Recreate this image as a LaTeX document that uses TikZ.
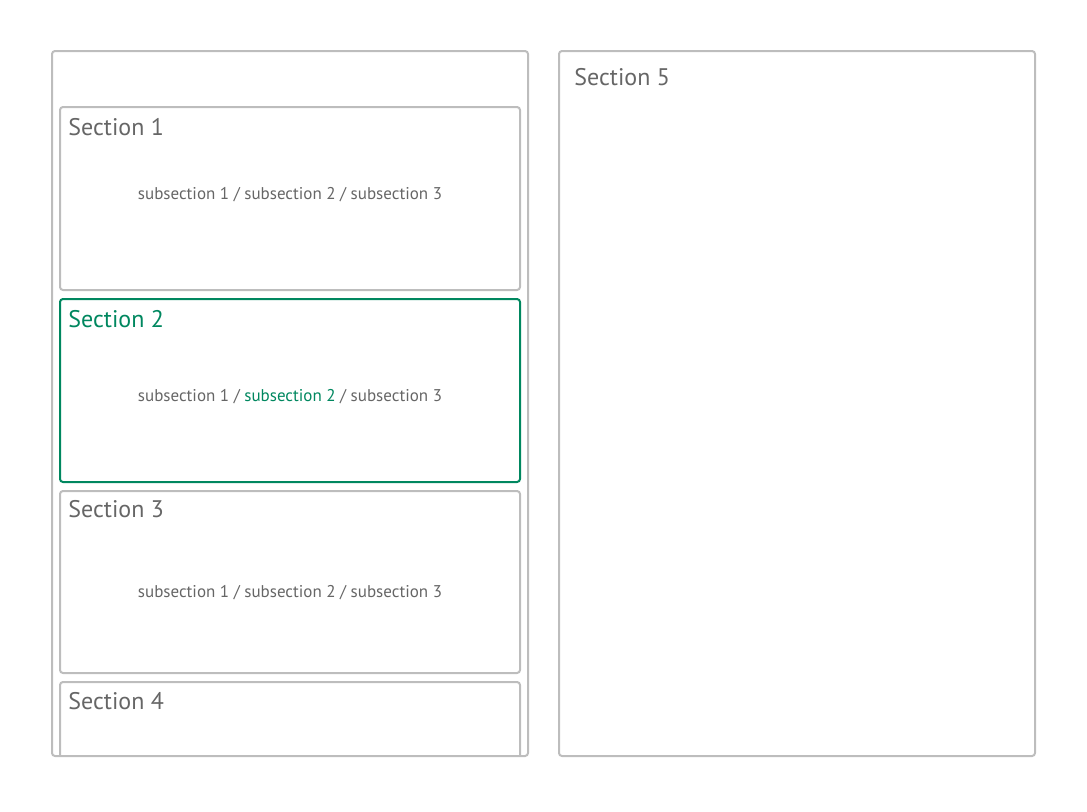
\documentclass[tikz,border=0pt]{standalone}
\usepackage{fontspec}
\setmainfont{PT Sans}
\usetikzlibrary{positioning}
\definecolor{framegray}{HTML}{BDBDBD}
\definecolor{textgray}{HTML}{666666}
\definecolor{activegreen}{HTML}{00875F}
\tikzset{
		panel/.style={draw=framegray, line width=1pt, rounded corners=1.5pt},
		secbox/.style={draw=framegray, line width=1pt, rounded corners=1.5pt},
		activebox/.style={draw=activegreen, line width=1pt, rounded corners=1.5pt},
		sectitle/.style={anchor=base west, inner sep=0pt, text=textgray, font=\fontsize{12}{14}\selectfont},
		subline/.style={inner sep=0pt, text=textgray, font=\fontsize{8.5}{10}\selectfont}
	}

\begin{document}
\begin{tikzpicture}[x=0.5pt, y=-0.5pt]
    \useasboundingbox (0,0) rectangle (1087,811);

    % the two panels
    \draw[panel] (52,51) rectangle (528,756);
    \draw[panel] (559,51) rectangle (1035,756);

    % the sections in the left panel
    \draw[secbox] (60,107) rectangle (520,290);
    \draw[activebox] (60,299) rectangle (520,482);
    \draw[secbox] (60,491) rectangle (520,673);
    \draw[secbox] (60,756) -- (60,682) -- (520,682) -- (520,756);

    % the titles
    \node[sectitle] (s1) at (68,135) {Section 1};
    \node[sectitle, text=activegreen] (s2) at (68,327) {Section 2};
    \node[sectitle] (s3) at (68,517) {Section 3};
    \node[sectitle] (s4) at (68,709) {Section 4};
    \node[sectitle] (s5) at (574,85) {Section 5};

    % the subsection lines
    \node[subline] (sub1) at (290,195) {subsection 1 / subsection 2 / subsection 3};
    \node[subline] (sub2) at (290,397) {subsection 1 / \textcolor{activegreen}{subsection 2} / subsection 3};
    \node[subline] (sub3) at (290,593) {subsection 1 / subsection 2 / subsection 3};

\end{tikzpicture}
\end{document}
